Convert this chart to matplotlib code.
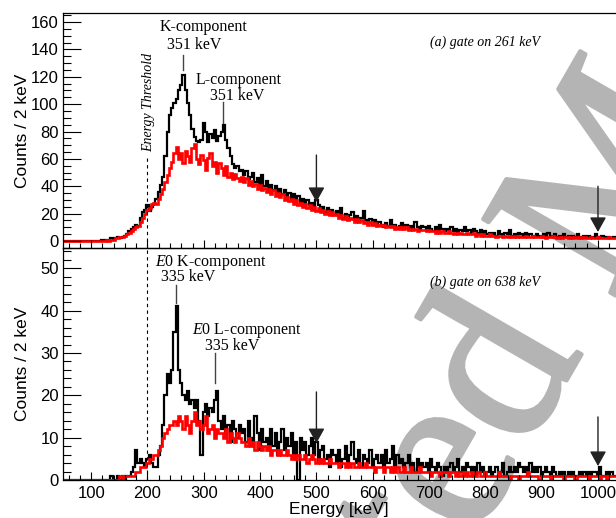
import numpy as np
import matplotlib
matplotlib.use("Agg")
import matplotlib.pyplot as plt
import matplotlib.patheffects as pe
from matplotlib.ticker import MultipleLocator

# Bordes de los bins (4 keV), de 50 a 1034 keV
energia_bordes = np.arange(50, 1035, 4)

# Panel (a): gate on 261 keV, cuentas / 2 keV
cuentas_a_negro = [
    0, 0, 0, 0, 0, 0, 0, 0, 0, 0,
    0, 0, 0, 0, 0, 0, 0, 1, 0, 1,
    1, 2, 1, 2, 3, 2, 3, 4, 5, 7,
    9, 10, 12, 11, 17, 21, 23, 26, 22, 25,
    27, 31, 36, 41, 47, 62, 80, 92, 97, 101,
    104, 110, 114, 121, 110, 101, 92, 82, 76, 73,
    72, 74, 86, 80, 72, 78, 75, 81, 73, 77,
    80, 85, 74, 68, 62, 56, 53, 55, 51, 52,
    48, 51, 45, 47, 50, 43, 46, 42, 48, 40,
    44, 39, 41, 37, 40, 36, 38, 34, 37, 33,
    35, 31, 34, 30, 33, 28, 31, 27, 30, 26,
    28, 24, 30, 26, 22, 25, 21, 24, 20, 23,
    19, 22, 18, 24, 17, 20, 16, 19, 21, 15,
    18, 14, 17, 22, 15, 13, 16, 12, 15, 11,
    14, 12, 10, 13, 11, 15, 10, 12, 9, 11,
    13, 10, 12, 9, 11, 8, 14, 10, 9, 11,
    10, 8, 11, 9, 7, 10, 8, 12, 9, 7,
    9, 8, 10, 7, 9, 6, 8, 7, 10, 7,
    8, 6, 9, 7, 6, 8, 5, 7, 5, 6,
    5, 6, 4, 7, 5, 4, 6, 5, 8, 4,
    5, 4, 6, 5, 3, 6, 4, 5, 4, 3,
    5, 4, 3, 5, 4, 6, 3, 4, 5, 3,
    4, 3, 5, 3, 4, 2, 4, 3, 5, 3,
    3, 4, 2, 4, 3, 3, 5, 2, 3, 4,
    3, 2, 3, 2, 3, 2]

cuentas_a_rojo = [
    0, 0, 0, 0, 0, 0, 0, 0, 0, 0,
    0, 0, 0, 0, 0, 0, 0, 0, 0, 1,
    0, 1, 1, 2, 2, 3, 3, 4, 5, 6,
    7, 9, 10, 11, 14, 17, 20, 23, 24, 27,
    28, 27, 31, 34, 38, 43, 48, 53, 58, 64,
    69, 60, 64, 57, 66, 62, 58, 68, 71, 60,
    56, 63, 59, 52, 61, 64, 55, 58, 50, 57,
    53, 48, 55, 47, 50, 45, 49, 46, 44, 47,
    43, 46, 41, 44, 40, 42, 38, 41, 37, 39,
    36, 38, 34, 37, 33, 35, 32, 34, 30, 32,
    29, 31, 27, 30, 26, 28, 25, 27, 24, 26,
    23, 25, 22, 24, 21, 23, 20, 22, 19, 21,
    19, 20, 17, 19, 16, 18, 15, 17, 16, 14,
    16, 14, 15, 13, 14, 12, 14, 12, 13, 11,
    12, 11, 12, 10, 11, 10, 11, 9, 10, 9,
    10, 9, 10, 8, 9, 8, 9, 7, 8, 8,
    8, 7, 8, 7, 7, 6, 7, 6, 7, 6,
    6, 7, 6, 5, 6, 5, 6, 5, 5, 6,
    5, 5, 6, 4, 5, 4, 5, 4, 4, 5,
    4, 4, 3, 4, 4, 3, 4, 3, 4, 3,
    4, 3, 4, 3, 3, 4, 3, 3, 4, 3,
    3, 3, 4, 3, 2, 3, 3, 4, 3, 2,
    3, 2, 3, 3, 2, 3, 2, 3, 2, 3,
    2, 3, 2, 2, 3, 2, 2, 3, 2, 2,
    2, 2, 3, 2, 2, 2]

# Panel (b): gate on 638 keV
cuentas_b_negro = [
    0, 0, 0, 0, 0, 0, 0, 0, 0, 0,
    0, 0, 0, 0, 0, 0, 0, 0, 0, 0,
    0, 1, 0, 0, 1, 0, 1, 0, 1, 1,
    2, 3, 7, 4, 5, 4, 3, 5, 6, 4,
    3, 3, 6, 8, 13, 20, 25, 23, 26, 35,
    41, 26, 23, 20, 19, 21, 18, 19, 17, 19,
    14, 6, 16, 18, 15, 17, 16, 19, 21, 14,
    12, 15, 11, 13, 9, 14, 12, 10, 13, 11,
    12, 9, 14, 10, 8, 15, 11, 7, 12, 9,
    10, 7, 12, 8, 11, 6, 9, 12, 7, 10,
    8, 11, 6, 9, 0, 10, 7, 9, 6, 8,
    10, 6, 9, 4, 7, 8, 5, 6, 3, 7,
    6, 4, 7, 3, 5, 8, 4, 6, 9, 5,
    4, 7, 3, 6, 5, 4, 7, 3, 5, 6,
    4, 6, 3, 7, 4, 5, 8, 3, 6, 4,
    5, 3, 4, 6, 3, 4, 2, 5, 3, 4,
    3, 4, 2, 5, 3, 2, 4, 3, 1, 3,
    2, 3, 4, 2, 3, 5, 2, 3, 2, 4,
    3, 2, 3, 1, 4, 2, 3, 1, 2, 3,
    1, 2, 3, 1, 2, 4, 1, 2, 3, 2,
    3, 2, 4, 3, 2, 3, 1, 4, 2, 3,
    2, 3, 1, 2, 3, 2, 1, 3, 2, 1,
    2, 1, 2, 1, 2, 1, 2, 1, 1, 2,
    1, 2, 1, 2, 1, 2, 2, 1, 3, 1,
    1, 2, 1, 2, 1, 1]

cuentas_b_rojo = [
    0, 0, 0, 0, 0, 0, 0, 0, 0, 0,
    0, 0, 0, 0, 0, 0, 0, 0, 0, 0,
    0, 0, 0, 0, 0, 1, 0, 1, 1, 1,
    1, 1, 2, 2, 3, 3, 3, 4, 5, 5,
    6, 6, 7, 8, 10, 11, 12, 13, 13, 14,
    13, 15, 14, 12, 15, 13, 11, 14, 16, 13,
    14, 12, 13, 15, 11, 12, 13, 10, 12, 11,
    11, 10, 12, 9, 11, 10, 9, 11, 10, 9,
    9, 8, 10, 8, 9, 7, 9, 8, 7, 8,
    7, 8, 6, 7, 7, 6, 7, 6, 6, 7,
    6, 5, 6, 5, 6, 5, 5, 6, 4, 5,
    6, 5, 4, 5, 4, 5, 4, 4, 5, 4,
    4, 4, 3, 4, 4, 3, 4, 3, 4, 3,
    3, 4, 3, 3, 4, 3, 3, 3, 2, 3,
    3, 3, 2, 3, 3, 2, 3, 2, 3, 2,
    2, 3, 2, 2, 3, 2, 2, 2, 3, 2,
    2, 2, 2, 1, 2, 2, 2, 1, 2, 2,
    2, 1, 2, 2, 1, 2, 1, 2, 1, 2,
    1, 2, 1, 1, 2, 1, 1, 2, 1, 1,
    1, 1, 1, 2, 1, 1, 1, 1, 0, 1,
    1, 1, 0, 1, 1, 1, 2, 1, 1, 1,
    1, 0, 1, 1, 1, 1, 0, 1, 1, 1,
    1, 1, 0, 1, 1, 1, 1, 0, 1, 1,
    1, 1, 1, 0, 1, 1, 1, 1, 0, 1,
    1, 0, 1, 1, 1, 1]

plt.rcParams['font.family'] = ['Liberation Sans', 'DejaVu Sans']
plt.rcParams['mathtext.fontset'] = 'custom'
plt.rcParams['mathtext.rm'] = 'Liberation Serif'
plt.rcParams['mathtext.it'] = 'Liberation Serif:italic'

W, H = 616, 518
fig = plt.figure(figsize=(W / 100, H / 100), dpi=100)


def pos(px, py):
    # pixel -> fraccion de figura
    return px / W, 1 - py / H


ax_a = fig.add_axes([63 / W, 1 - 248 / H, 1 - 63 / W, 235 / H])
ax_b = fig.add_axes([63 / W, 1 - 480 / H, 1 - 63 / W, 232 / H])

for ax in (ax_a, ax_b):
    ax.set_facecolor('none')
    ax.spines['right'].set_visible(False)
    for s in ('left', 'top', 'bottom'):
        ax.spines[s].set_linewidth(0.9)
    ax.set_xlim(50, 1032)
    ax.xaxis.set_major_locator(MultipleLocator(100))
    ax.xaxis.set_minor_locator(MultipleLocator(20))
    ax.tick_params(axis='x', which='major', direction='in', length=6, width=0.8, pad=4, labelsize=12)
    ax.tick_params(axis='x', which='minor', direction='in', length=3.3, width=0.8)
    ax.tick_params(axis='y', which='major', direction='in', length=13, width=0.8, pad=3, labelsize=12)
    ax.tick_params(axis='y', which='minor', direction='in', length=6, width=0.8)

ax_a.stairs(cuentas_a_negro, energia_bordes, baseline=None, color='black', lw=1.6)
ax_a.stairs(cuentas_a_rojo, energia_bordes, baseline=None, color='#ff0000', lw=1.9)
ax_b.stairs(cuentas_b_negro, energia_bordes, baseline=None, color='black', lw=1.6)
ax_b.stairs(cuentas_b_rojo, energia_bordes, baseline=None, color='#ff0000', lw=1.9)

ax_a.set_ylim(-5.1, 166.6)
ax_a.yaxis.set_major_locator(MultipleLocator(20))
ax_a.yaxis.set_minor_locator(MultipleLocator(5))
ax_a.tick_params(axis='x', labelbottom=False)

ax_b.set_ylim(0, 54.8)
ax_b.yaxis.set_major_locator(MultipleLocator(10))
ax_b.yaxis.set_minor_locator(MultipleLocator(2))

ax_a.set_ylabel('Counts / 2 keV', fontsize=12.5)
ax_b.set_ylabel('Counts / 2 keV', fontsize=12.5)
ax_a.yaxis.set_label_coords(-0.06, 0.5)
ax_b.yaxis.set_label_coords(-0.06, 0.5)
ax_b.set_xlabel('Energy [keV]', fontsize=12.5)
ax_b.xaxis.set_label_coords(0.499, -0.095)

# Umbral de energia
ax_a.plot([200, 200], [-5.1, 61], color='black', lw=0.8, ls=(0, (3, 3)))
ax_b.plot([200, 200], [0, 54.8], color='black', lw=0.8, ls=(0, (3, 3)))

serif = 'Liberation Serif'
fig.text(*pos(149, 102), 'Energy Threshold', rotation=90, ha='center', va='center',
         family=serif, style='italic', fontsize=10)

# Etiquetas de los picos
fig.text(*pos(203, 27), 'K-component', ha='center', va='center', family=serif, fontsize=11.5)
fig.text(*pos(194, 45), '351 keV', ha='center', va='center', family=serif, fontsize=11.5)
ax_a.plot([263, 263], [125, 136], color='#444444', lw=1)
fig.text(*pos(239, 80), 'L-component', ha='center', va='center', family=serif, fontsize=11.5)
fig.text(*pos(237, 96), '351 keV', ha='center', va='center', family=serif, fontsize=11.5)
ax_a.plot([334, 334], [86, 101.5], color='#444444', lw=1)
fig.text(*pos(485.5, 42), '(a) gate on 261 keV', ha='center', va='center', family=serif,
         style='italic', fontsize=10)

fig.text(*pos(211, 263), r'$\mathit{E0}$ K-component', ha='center', va='center', family=serif, fontsize=11.5)
fig.text(*pos(188, 277), '335 keV', ha='center', va='center', family=serif, fontsize=11.5)
ax_b.plot([250, 250], [41.8, 46.1], color='#444444', lw=1)
fig.text(*pos(247, 331), r'$\mathit{E0}$ L-component', ha='center', va='center', family=serif, fontsize=11.5)
fig.text(*pos(232, 346), '335 keV', ha='center', va='center', family=serif, fontsize=11.5)
ax_b.plot([320, 320], [22.9, 30.0], color='#444444', lw=1)
fig.text(*pos(485.5, 282), '(b) gate on 638 keV', ha='center', va='center', family=serif,
         style='italic', fontsize=10)

# Flechas
flecha = dict(arrowstyle='-|>,head_length=0.9,head_width=0.5', color='#222222', lw=1,
              mutation_scale=10, shrinkA=0, shrinkB=0)
ax_a.annotate('', xy=(500, 28.5), xytext=(500, 62.8), arrowprops=flecha)
ax_a.annotate('', xy=(1000, 6.6), xytext=(1000, 40), arrowprops=flecha)
ax_b.annotate('', xy=(500, 8.7), xytext=(500, 20.8), arrowprops=flecha)
ax_b.annotate('', xy=(1000, 3.3), xytext=(1000, 14.9), arrowprops=flecha)

# Marca de agua
gris = '#b4b4b4'
fig.text(*pos(643, 248), 'Accepted Manuscript', rotation=60, rotation_mode='anchor',
         ha='center', va='baseline', family=serif, fontsize=168, color=gris, zorder=-1,
         path_effects=[pe.withStroke(linewidth=3, foreground=gris)])

fig.savefig('out.png', dpi=100, facecolor='white')
